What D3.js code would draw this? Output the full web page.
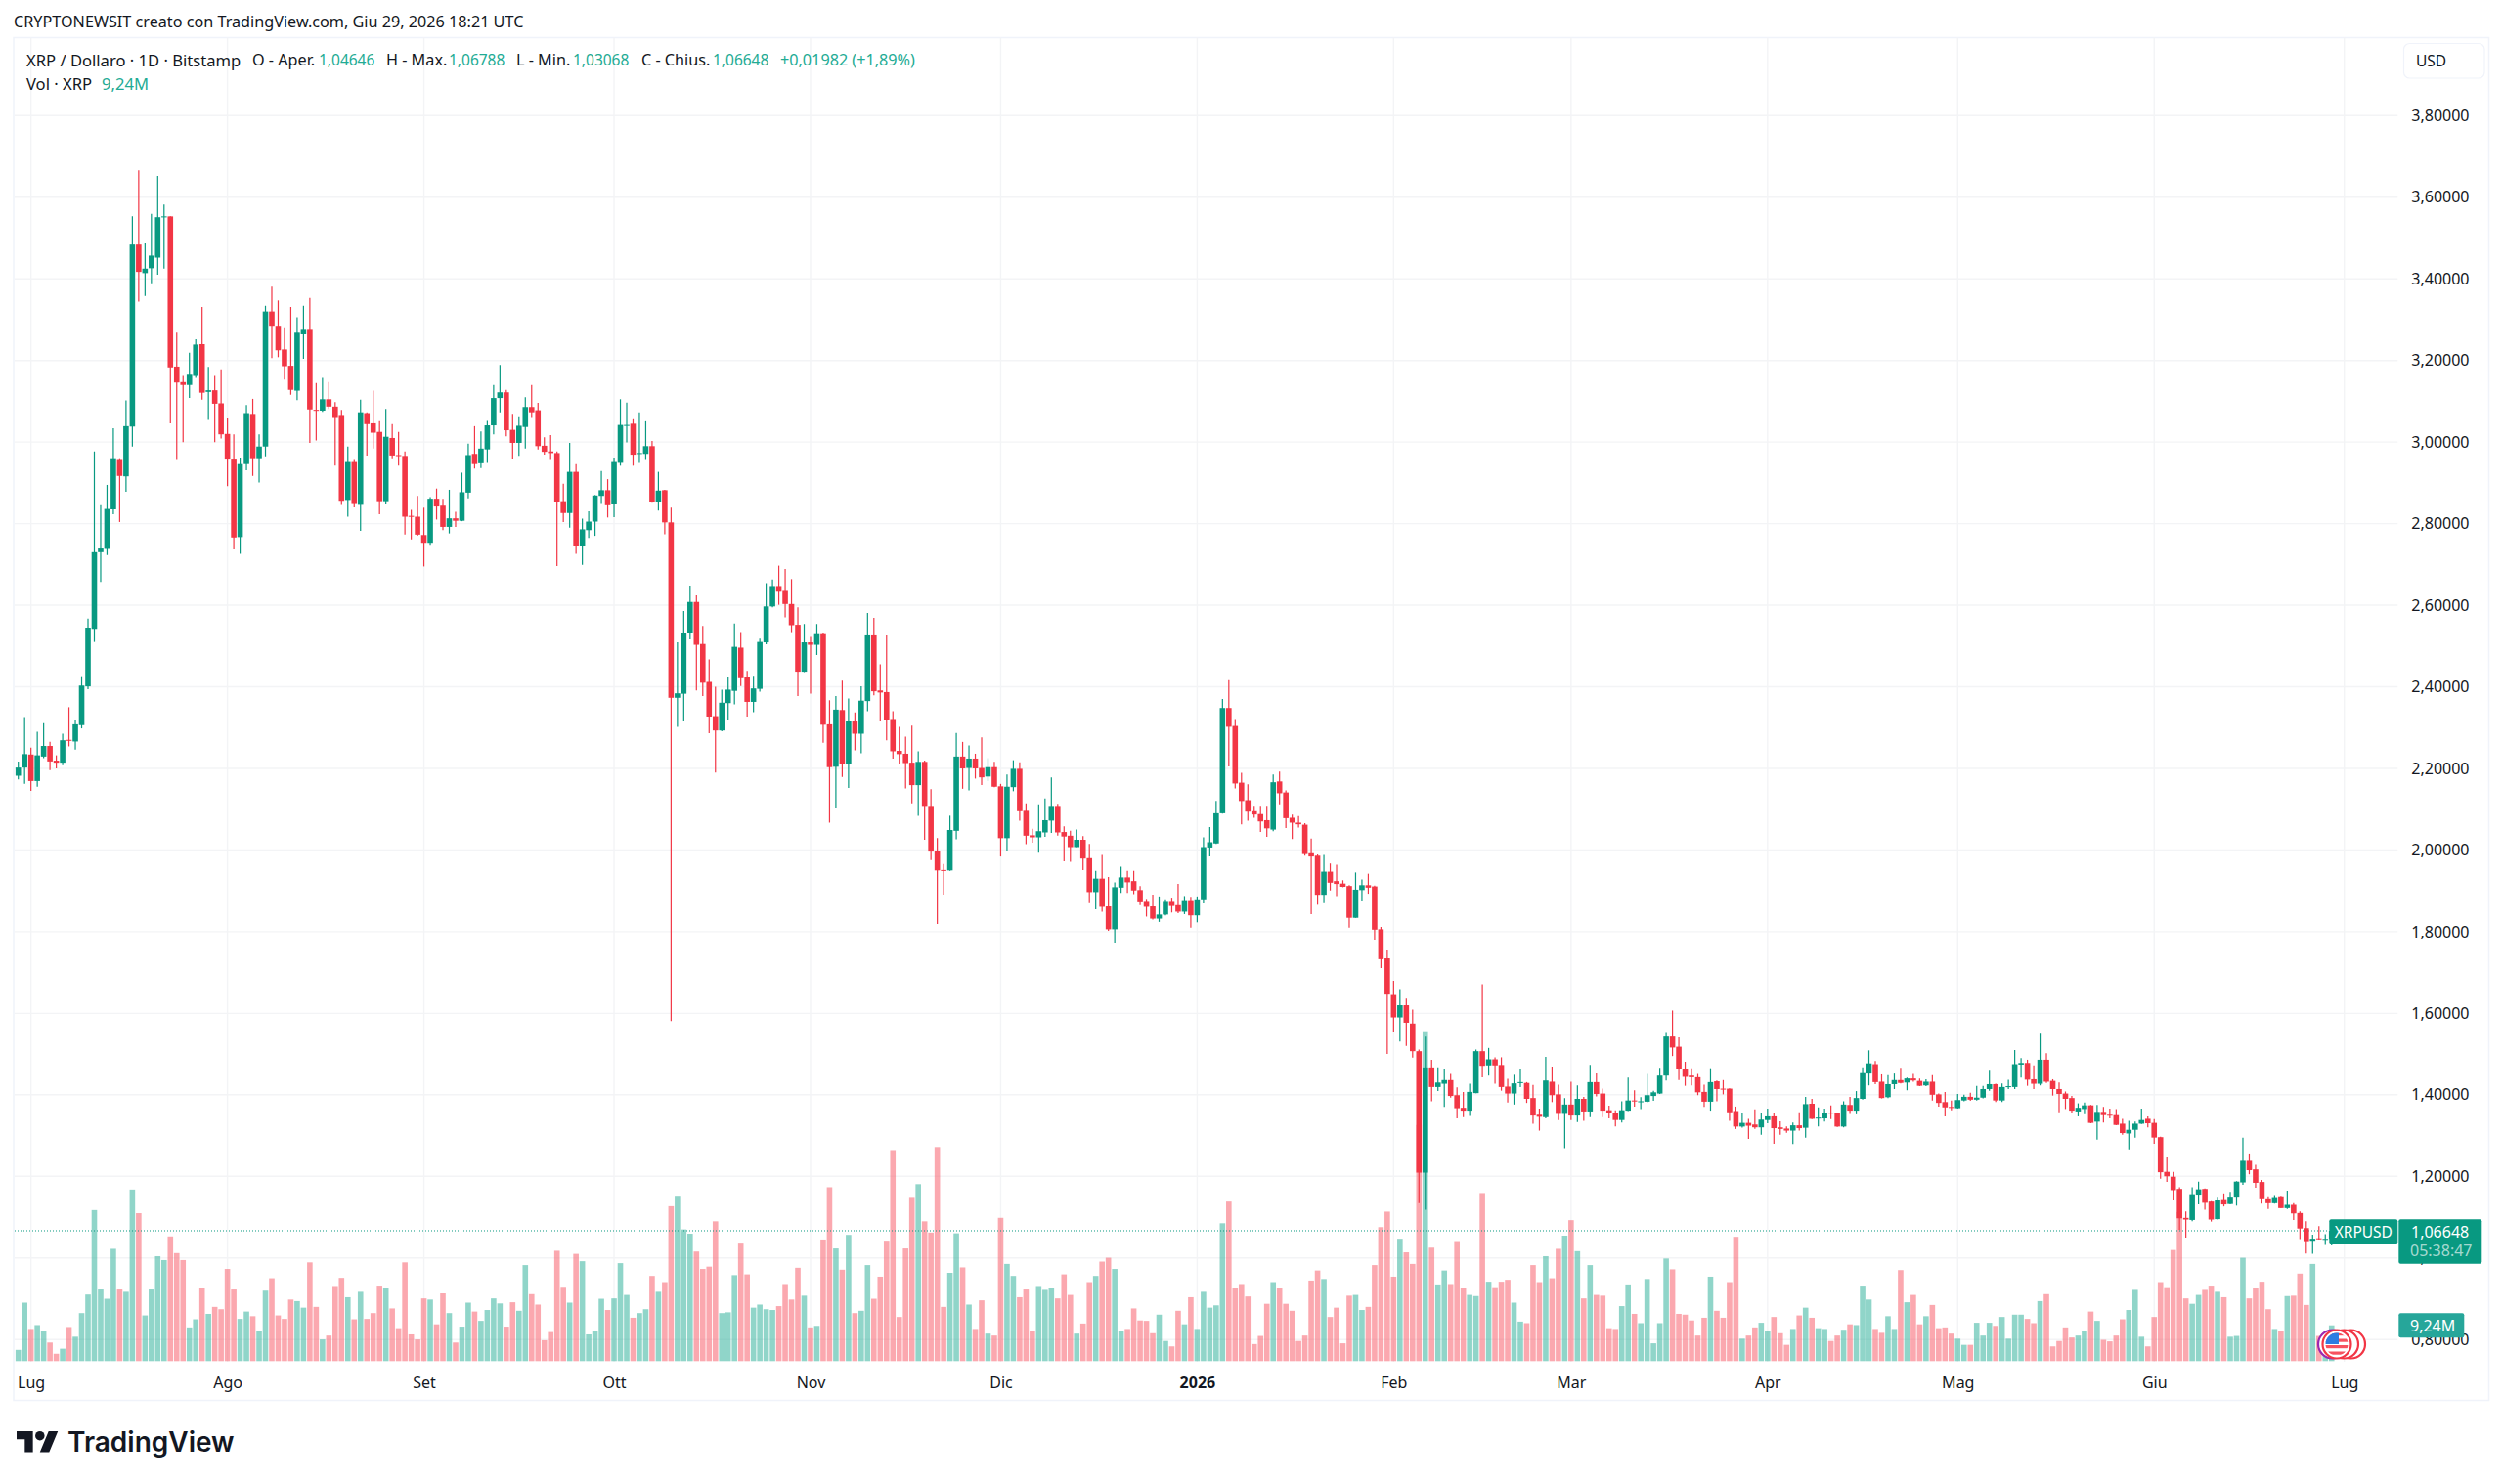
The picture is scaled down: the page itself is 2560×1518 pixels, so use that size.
<!DOCTYPE html>
<html lang="it">
<head>
<meta charset="utf-8">
<title>XRP / Dollaro</title>
<script src="https://cdn.jsdelivr.net/npm/d3@7"></script>
<style>
  html, body { margin: 0; padding: 0; background: #fff; }
  svg { display: block; }
  text { font-family: "Noto Sans", sans-serif; fill: #131722; }
</style>
</head>
<body>
<svg id="chart" width="2560" height="1518"></svg>
<script>
// Daily XRP/USD sessions, 29 Jun 2025 to 29 Jun 2026 (ten values per line)
const opens = [
2.182,2.202,2.234,2.169,2.229,2.255,2.219,2.214,2.270,2.266,
2.306,2.401,2.542,2.730,2.738,2.835,2.956,2.916,3.038,3.484,
3.414,3.426,3.452,3.552,3.553,3.185,3.147,3.140,3.162,3.240,
3.123,3.127,3.095,3.020,2.957,2.767,2.946,3.069,2.958,2.989,
3.320,3.285,3.227,3.187,3.126,3.264,3.275,3.079,3.077,3.105,
3.087,3.064,2.858,2.951,2.846,3.071,3.046,3.025,2.855,3.010,
2.968,2.966,2.819,2.817,2.772,2.753,2.861,2.844,2.792,2.813,
2.807,2.876,2.971,2.948,2.982,3.041,3.108,3.122,3.030,2.998,
3.037,3.086,3.078,2.991,2.977,2.973,2.855,2.826,2.927,2.745,
2.784,2.805,2.868,2.882,2.847,2.949,3.041,3.045,2.972,2.971,
2.990,2.852,2.882,2.803,2.373,2.383,2.531,2.608,2.505,2.412,
2.328,2.293,2.360,2.390,2.496,2.424,2.363,2.395,2.509,2.597,
2.647,2.635,2.603,2.552,2.437,2.509,2.503,2.529,2.308,2.204,
2.343,2.210,2.315,2.285,2.365,2.526,2.391,2.387,2.321,2.243,
2.236,2.214,2.159,2.216,2.108,1.997,1.951,1.950,2.047,2.229,
2.201,2.224,2.201,2.180,2.203,2.156,2.029,2.154,2.199,2.096,
2.036,2.031,2.043,2.072,2.108,2.044,2.035,2.007,2.025,1.980,
1.897,1.930,1.862,1.806,1.908,1.933,1.924,1.902,1.873,1.862,
1.832,1.842,1.873,1.865,1.849,1.875,1.840,1.877,2.006,2.016,
2.090,2.348,2.304,2.165,2.122,2.095,2.088,2.073,2.050,2.168,
2.141,2.079,2.067,2.062,1.992,1.986,1.888,1.947,1.924,1.918,
1.912,1.834,1.902,1.914,1.911,1.806,1.735,1.645,1.590,1.620,
1.575,1.507,1.209,1.467,1.419,1.427,1.436,1.399,1.368,1.361,
1.404,1.507,1.472,1.487,1.473,1.420,1.403,1.429,1.429,1.392,
1.351,1.345,1.432,1.401,1.353,1.376,1.349,1.390,1.359,1.431,
1.403,1.362,1.356,1.338,1.361,1.386,1.383,1.383,1.397,1.403,
1.447,1.543,1.518,1.463,1.447,1.443,1.407,1.383,1.433,1.415,
1.415,1.360,1.322,1.331,1.327,1.320,1.338,1.347,1.320,1.317,
1.312,1.325,1.319,1.378,1.342,1.342,1.356,1.355,1.322,1.375,
1.361,1.390,1.452,1.475,1.432,1.394,1.426,1.436,1.430,1.440,
1.434,1.423,1.432,1.401,1.382,1.370,1.367,1.386,1.395,1.388,
1.393,1.414,1.426,1.386,1.419,1.419,1.474,1.478,1.438,1.427,
1.486,1.434,1.414,1.403,1.392,1.359,1.365,1.374,1.334,1.358,
1.351,1.350,1.329,1.305,1.314,1.329,1.341,1.331,1.296,1.211,
1.199,1.169,1.098,1.093,1.155,1.169,1.138,1.095,1.144,1.132,
1.150,1.185,1.238,1.217,1.186,1.146,1.134,1.151,1.122,1.130,
1.110,1.073,1.042,1.048,1.0465,1.04646];

const highs = [
2.217,2.326,2.251,2.290,2.311,2.265,2.232,2.285,2.350,2.319,
2.426,2.567,2.977,2.845,2.895,3.034,2.958,3.102,3.553,3.666,
3.487,3.559,3.652,3.582,3.553,3.268,3.162,3.219,3.252,3.331,
3.184,3.162,3.178,3.058,3.019,2.962,3.091,3.106,3.019,3.334,
3.381,3.347,3.279,3.331,3.306,3.334,3.353,3.145,3.157,3.147,
3.098,3.079,2.989,2.956,3.104,3.073,3.126,3.051,3.081,3.044,
3.025,2.977,2.834,2.868,2.839,2.865,2.886,2.861,2.883,2.829,
2.925,2.996,3.039,3.026,3.052,3.140,3.189,3.128,3.069,3.061,
3.110,3.140,3.096,3.012,3.017,2.977,2.898,2.998,2.946,2.812,
2.830,2.870,2.929,2.909,2.962,3.105,3.097,3.056,3.073,3.051,
3.003,2.927,2.883,2.839,2.509,2.586,2.648,2.624,2.549,2.467,
2.400,2.393,2.423,2.555,2.534,2.439,2.427,2.518,2.654,2.663,
2.697,2.689,2.664,2.595,2.554,2.522,2.554,2.532,2.367,2.377,
2.415,2.371,2.337,2.401,2.581,2.569,2.455,2.526,2.340,2.302,
2.278,2.305,2.242,2.219,2.149,2.029,1.966,2.084,2.287,2.265,
2.256,2.236,2.276,2.225,2.216,2.162,2.185,2.220,2.215,2.114,
2.052,2.112,2.126,2.178,2.113,2.058,2.047,2.050,2.034,2.015,
1.949,1.988,1.934,1.921,1.959,1.949,1.949,1.912,1.878,1.890,
1.884,1.877,1.881,1.917,1.885,1.883,1.884,2.031,2.056,2.120,
2.370,2.416,2.321,2.189,2.161,2.108,2.108,2.108,2.185,2.192,
2.146,2.087,2.083,2.066,2.028,1.989,1.988,1.967,1.964,1.926,
1.914,1.945,1.928,1.942,1.913,1.812,1.754,1.680,1.657,1.636,
1.609,1.511,1.543,1.486,1.467,1.463,1.451,1.418,1.407,1.427,
1.511,1.669,1.515,1.492,1.492,1.439,1.449,1.463,1.431,1.424,
1.366,1.493,1.469,1.425,1.392,1.432,1.423,1.395,1.473,1.452,
1.415,1.373,1.362,1.384,1.442,1.411,1.394,1.451,1.410,1.466,
1.552,1.607,1.541,1.481,1.465,1.451,1.425,1.465,1.435,1.436,
1.416,1.371,1.356,1.341,1.364,1.355,1.366,1.356,1.335,1.322,
1.332,1.357,1.395,1.390,1.369,1.366,1.374,1.356,1.384,1.395,
1.409,1.467,1.509,1.483,1.450,1.448,1.452,1.466,1.442,1.451,
1.440,1.438,1.448,1.403,1.407,1.386,1.402,1.400,1.405,1.422,
1.422,1.459,1.427,1.428,1.437,1.510,1.490,1.486,1.472,1.550,
1.502,1.438,1.430,1.408,1.397,1.379,1.381,1.375,1.375,1.370,
1.366,1.365,1.341,1.336,1.334,1.366,1.347,1.340,1.297,1.248,
1.211,1.173,1.114,1.173,1.187,1.170,1.139,1.150,1.158,1.162,
1.188,1.295,1.256,1.228,1.191,1.151,1.154,1.152,1.165,1.134,
1.114,1.090,1.057,1.078,1.058,1.06788];

const lows = [
2.173,2.162,2.145,2.155,2.225,2.196,2.200,2.208,2.254,2.246,
2.298,2.394,2.510,2.657,2.723,2.823,2.804,2.878,2.989,3.344,
3.358,3.389,3.410,3.425,3.046,2.956,3.000,3.108,3.157,3.104,
3.054,3.000,3.009,2.892,2.737,2.726,2.931,2.917,2.901,2.965,
3.206,3.208,3.153,3.116,3.103,3.204,2.998,3.004,3.074,3.081,
2.942,2.846,2.817,2.840,2.782,2.967,2.984,2.823,2.847,2.958,
2.942,2.773,2.761,2.770,2.695,2.748,2.810,2.784,2.776,2.792,
2.806,2.862,2.935,2.936,2.949,3.019,3.073,3.014,2.957,2.966,
2.984,3.059,2.982,2.969,2.956,2.696,2.804,2.790,2.726,2.699,
2.765,2.770,2.848,2.815,2.816,2.942,2.999,2.942,2.949,2.956,
2.851,2.832,2.774,1.581,2.302,2.315,2.516,2.391,2.377,2.286,
2.190,2.291,2.318,2.357,2.402,2.327,2.338,2.388,2.504,2.595,
2.601,2.570,2.534,2.377,2.436,2.383,2.478,2.263,2.067,2.102,
2.179,2.152,2.244,2.237,2.340,2.379,2.315,2.269,2.224,2.210,
2.151,2.114,2.084,2.025,1.975,1.819,1.889,1.949,2.026,2.150,
2.146,2.175,2.159,2.169,2.154,1.984,1.996,2.144,2.072,2.014,
2.018,1.993,2.032,2.042,2.035,1.972,1.971,2.007,1.951,1.870,
1.855,1.849,1.802,1.771,1.895,1.895,1.892,1.865,1.837,1.830,
1.824,1.840,1.847,1.845,1.843,1.810,1.823,1.869,1.984,2.015,
2.089,2.205,2.151,2.063,2.072,2.079,2.044,2.032,2.046,2.112,
2.054,2.027,2.055,1.986,1.843,1.866,1.870,1.901,1.885,1.909,
1.810,1.834,1.874,1.893,1.778,1.711,1.500,1.553,1.531,1.520,
1.491,1.134,1.118,1.384,1.409,1.370,1.393,1.342,1.345,1.348,
1.404,1.443,1.447,1.427,1.410,1.381,1.376,1.419,1.380,1.329,
1.312,1.342,1.382,1.338,1.269,1.338,1.333,1.336,1.345,1.396,
1.345,1.342,1.322,1.332,1.360,1.371,1.365,1.381,1.385,1.402,
1.435,1.495,1.436,1.422,1.423,1.399,1.370,1.361,1.384,1.401,
1.336,1.316,1.319,1.292,1.316,1.302,1.330,1.280,1.302,1.307,
1.279,1.312,1.295,1.340,1.322,1.334,1.340,1.321,1.320,1.353,
1.352,1.388,1.423,1.426,1.391,1.392,1.414,1.428,1.411,1.432,
1.421,1.421,1.386,1.371,1.347,1.362,1.366,1.384,1.385,1.386,
1.391,1.410,1.382,1.382,1.414,1.414,1.442,1.422,1.414,1.423,
1.429,1.398,1.357,1.365,1.354,1.347,1.352,1.330,1.290,1.332,
1.342,1.325,1.302,1.266,1.295,1.328,1.320,1.280,1.194,1.186,
1.141,1.069,1.050,1.090,1.131,1.118,1.089,1.094,1.126,1.131,
1.128,1.179,1.205,1.172,1.133,1.120,1.133,1.122,1.120,1.093,
1.046,1.011,1.010,1.045,1.032,1.03068];

const closes = [
2.202,2.235,2.169,2.232,2.255,2.217,2.214,2.269,2.268,2.308,
2.403,2.545,2.730,2.739,2.836,2.958,2.917,3.039,3.484,3.417,
3.425,3.457,3.551,3.553,3.183,3.146,3.140,3.165,3.239,3.121,
3.127,3.094,3.019,2.957,2.766,2.946,3.071,2.958,2.989,3.320,
3.285,3.225,3.186,3.128,3.268,3.275,3.080,3.077,3.105,3.087,
3.059,2.856,2.951,2.848,3.073,3.044,3.023,2.855,3.013,2.967,
2.966,2.817,2.817,2.773,2.753,2.861,2.842,2.792,2.813,2.807,
2.877,2.968,2.946,2.984,3.041,3.108,3.122,3.029,2.998,3.040,
3.086,3.073,2.990,2.976,2.973,2.854,2.826,2.927,2.744,2.786,
2.805,2.869,2.882,2.845,2.951,3.042,3.042,2.969,2.973,2.990,
2.852,2.881,2.803,2.373,2.384,2.533,2.608,2.503,2.410,2.327,
2.293,2.361,2.393,2.498,2.421,2.363,2.396,2.510,2.597,2.647,
2.633,2.603,2.551,2.437,2.509,2.503,2.529,2.307,2.203,2.344,
2.210,2.315,2.285,2.366,2.526,2.389,2.386,2.318,2.242,2.235,
2.213,2.159,2.216,2.108,1.996,1.950,1.950,2.049,2.229,2.200,
2.224,2.200,2.178,2.203,2.155,2.029,2.155,2.199,2.095,2.035,
2.031,2.046,2.073,2.108,2.043,2.033,2.007,2.025,1.979,1.897,
1.930,1.861,1.806,1.909,1.933,1.921,1.901,1.872,1.861,1.832,
1.842,1.873,1.863,1.849,1.875,1.840,1.877,2.007,2.019,2.090,
2.348,2.302,2.163,2.120,2.094,2.087,2.070,2.053,2.166,2.139,
2.078,2.067,2.063,1.990,1.984,1.888,1.947,1.920,1.917,1.910,
1.834,1.903,1.914,1.908,1.805,1.733,1.646,1.590,1.620,1.577,
1.507,1.209,1.467,1.419,1.430,1.436,1.397,1.367,1.361,1.407,
1.507,1.471,1.487,1.472,1.419,1.403,1.428,1.431,1.390,1.349,
1.346,1.435,1.399,1.353,1.376,1.349,1.390,1.359,1.431,1.402,
1.361,1.355,1.338,1.362,1.386,1.384,1.384,1.399,1.406,1.447,
1.543,1.516,1.463,1.444,1.443,1.406,1.383,1.431,1.414,1.413,
1.357,1.322,1.331,1.324,1.320,1.339,1.347,1.318,1.316,1.312,
1.325,1.318,1.377,1.341,1.344,1.356,1.355,1.322,1.376,1.361,
1.392,1.453,1.477,1.431,1.392,1.426,1.436,1.429,1.440,1.435,
1.422,1.432,1.400,1.380,1.369,1.368,1.387,1.395,1.388,1.393,
1.414,1.426,1.386,1.419,1.421,1.475,1.478,1.437,1.427,1.486,
1.432,1.414,1.402,1.390,1.361,1.368,1.374,1.331,1.358,1.350,
1.350,1.326,1.306,1.314,1.329,1.338,1.330,1.295,1.210,1.200,
1.166,1.097,1.094,1.156,1.168,1.135,1.094,1.143,1.131,1.150,
1.187,1.238,1.215,1.184,1.146,1.134,1.149,1.122,1.130,1.109,
1.072,1.041,1.047,1.046,1.04666,1.06648];

// Traded volume in millions of XRP
const volumes = [
2.9,15.1,8.3,9.3,7.9,4.8,1.9,3.2,8.8,6.3,
12.4,17.2,39.0,18.5,16.1,29.0,18.5,17.9,44.3,38.2,
11.8,18.5,27.1,26.1,32.2,27.9,26.1,8.7,10.8,18.9,
12.2,14.0,13.4,23.8,18.5,10.9,12.8,11.6,7.9,18.2,
21.4,11.8,10.9,15.9,15.5,13.8,25.5,14.0,5.6,6.6,
19.4,21.5,16.5,10.8,17.9,10.9,12.4,19.5,18.8,13.6,
8.5,25.5,6.9,5.6,16.2,15.9,9.5,17.5,12.4,4.8,
8.9,15.1,12.8,10.4,13.2,16.2,14.9,8.9,15.2,13.0,
24.8,17.3,14.6,5.4,7.5,28.5,19.2,15.1,27.7,25.8,
6.9,7.7,16.1,13.2,16.2,25.3,17.1,11.2,12.4,13.4,
22.0,17.9,20.4,40.0,42.7,34.0,32.9,28.3,23.8,24.4,
36.1,12.4,12.6,22.2,30.6,22.4,13.8,14.6,13.4,13.2,
14.2,19.9,15.9,24.1,16.9,8.7,9.1,31.4,44.9,29.1,
23.6,32.6,12.4,13.0,24.8,16.1,21.8,31.1,54.5,11.4,
29.1,42.4,45.7,36.1,33.2,55.3,14.0,22.8,33.0,24.2,
14.6,8.3,15.7,7.1,6.6,37.0,25.1,22.0,16.5,18.5,
7.9,19.4,18.4,18.9,16.2,22.4,17.1,7.1,9.7,20.4,
22.0,25.7,26.7,23.8,7.7,8.3,13.6,10.5,10.4,7.2,
12.0,5.2,3.8,13.0,9.5,16.5,8.3,17.9,13.8,14.4,
35.6,41.2,18.8,19.9,16.7,4.4,6.5,14.8,20.4,18.9,
14.8,13.0,5.2,6.6,20.8,23.4,21.2,11.4,13.8,4.6,
16.9,17.1,13.2,14.0,24.8,34.6,38.6,21.8,31.6,28.1,
25.1,61.0,85.0,29.3,19.8,23.4,19.9,31.0,18.8,17.1,
16.8,43.4,20.5,19.1,20.5,21.0,15.1,10.2,9.8,24.8,
20.4,27.1,21.4,29.0,32.4,36.4,28.4,16.2,24.8,17.1,
16.9,8.5,8.3,14.2,19.8,12.2,9.8,21.2,4.6,9.8,
26.5,23.7,12.2,12.0,10.5,6.6,11.2,21.8,13.0,11.2,
20.4,32.1,5.8,6.6,8.7,9.9,7.7,11.4,7.2,4.2,
8.3,11.8,13.8,11.2,8.5,8.3,5.2,6.6,8.1,9.5,
9.3,19.5,15.9,8.3,7.3,11.6,8.3,23.5,15.2,17.1,
9.5,11.6,14.5,8.5,8.7,7.1,5.8,4.2,4.2,9.9,
6.6,9.9,9.1,11.4,5.8,12.0,12.0,10.9,9.8,15.5,
17.3,3.8,5.2,8.7,6.1,6.6,7.7,12.8,10.4,5.5,
5.1,6.6,10.8,13.2,18.4,6.3,3.8,11.4,20.4,19.1,
28.7,38.5,16.2,14.8,17.1,18.4,19.5,17.9,16.5,6.3,
6.5,26.7,16.2,18.8,20.5,13.4,8.3,7.7,16.8,16.9,
22.6,14.5,25.1,6.5,4.0,9.24];

const priceTicks = [3.8,3.6,3.4,3.2,3.0,2.8,2.6,2.4,2.2,2.0,1.8,1.6,1.4,1.2,1.0,0.8];
const monthStarts = ["2025-07-01","2025-08-01","2025-09-01","2025-10-01","2025-11-01","2025-12-01",
                     "2026-01-01","2026-02-01","2026-03-01","2026-04-01","2026-05-01","2026-06-01","2026-07-01"];
const monthLabels = ["Lug","Ago","Set","Ott","Nov","Dic","2026","Feb","Mar","Apr","Mag","Giu","Lug"];

const lastClose = 1.06648;
const lastVolume = 9.24;

const up = "#089981", down = "#f23645";
const upVol = "#22ab94", downVol = "#f7525f";
const gridColor = "#f3f4f6", frameColor = "#f0f3fa";

const firstDay = new Date(Date.UTC(2025, 5, 29));
const days = d3.utcDay.range(firstDay, d3.utcDay.offset(firstDay, opens.length));
const candles = days.map((date, i) => ({
  date, open: opens[i], high: highs[i], low: lows[i], close: closes[i], volume: volumes[i]
}));
const monthDates = monthStarts.map(d3.utcParse("%Y-%m-%d"));

const plot = { left: 15, right: 2452.3, top: 38.5, bottom: 1393 };

const x = d3.scaleUtc()
  .domain([firstDay, new Date(Date.UTC(2026, 6, 1))])
  .range([18.7, 2397.7]);
const y = d3.scaleLinear().domain([3.8, 0.8]).range([118.3, 1370.2]);
const v = d3.scaleLinear().domain([0, 100]).range([1392.3, 996.3]);

const num = d3.formatLocale({ decimal: ",", thousands: ".", grouping: [3], currency: ["", "$"] });
const price5 = num.format(".5f");

const svg = d3.select("#chart");

// Pane frame
svg.append("rect")
  .attr("x", plot.left - 1).attr("y", plot.top)
  .attr("width", 2545.5 - plot.left + 1).attr("height", 1432.5 - plot.top)
  .attr("fill", "#fff").attr("stroke", frameColor).attr("stroke-width", 1.5);

// Grid
const grid = svg.append("g").attr("stroke", gridColor).attr("stroke-width", 1.4);
grid.selectAll("line.h").data(priceTicks).join("line")
  .attr("x1", plot.left).attr("x2", plot.right)
  .attr("y1", d => y(d)).attr("y2", d => y(d));
grid.selectAll("line.v").data(monthDates).join("line")
  .attr("x1", d => x(d)).attr("x2", d => x(d))
  .attr("y1", plot.top).attr("y2", plot.bottom);

// Volume bars
const barWidth = 5.6;
svg.append("g").selectAll("rect").data(candles).join("rect")
  .attr("x", d => x(d.date) - barWidth / 2)
  .attr("width", barWidth)
  .attr("y", d => v(d.volume))
  .attr("height", d => v(0) - v(d.volume))
  .attr("fill", d => d.close >= d.open ? upVol : downVol)
  .attr("fill-opacity", 0.5);

// Last price guide
svg.append("line")
  .attr("x1", plot.left).attr("x2", 2382)
  .attr("y1", y(lastClose)).attr("y2", y(lastClose))
  .attr("stroke", up).attr("stroke-width", 1).attr("stroke-dasharray", "1 2");

// Candles
const bodyWidth = 5.6;
const candleG = svg.append("g").selectAll("g").data(candles).join("g")
  .attr("fill", d => d.close >= d.open ? up : down)
  .attr("stroke", d => d.close >= d.open ? up : down);
candleG.append("line")
  .attr("x1", d => x(d.date)).attr("x2", d => x(d.date))
  .attr("y1", d => y(d.high)).attr("y2", d => y(d.low))
  .attr("stroke-width", 1.2);
candleG.append("rect")
  .attr("x", d => x(d.date) - bodyWidth / 2)
  .attr("width", bodyWidth)
  .attr("y", d => y(Math.max(d.open, d.close)))
  .attr("height", d => Math.max(1, Math.abs(y(d.open) - y(d.close))))
  .attr("stroke", "none");

// Price scale
const priceAxis = svg.append("g")
  .attr("transform", `translate(${plot.right + 14},0)`)
  .call(d3.axisRight(y).tickValues(priceTicks).tickFormat(price5).tickSize(0).tickPadding(0));
priceAxis.select(".domain").remove();
priceAxis.selectAll("text").attr("font-size", 16).attr("font-family", null).style("fill", "#131722");

// Time scale
const timeAxis = svg.append("g")
  .attr("transform", "translate(0,1409)")
  .call(d3.axisBottom(x).tickValues(monthDates)
    .tickFormat((d, i) => monthLabels[i]).tickSize(0).tickPadding(0));
timeAxis.select(".domain").remove();
timeAxis.selectAll("text")
  .attr("font-size", 16).attr("font-family", null)
  .attr("font-weight", (d, i) => monthLabels[i] === "2026" ? 700 : 400)
  .style("fill", "#131722");

// Header lines
const headerText = (tx, ty, str, color, size) => svg.append("text")
  .attr("x", tx).attr("y", ty).attr("dominant-baseline", "central")
  .attr("font-size", size || 16.2).style("fill", color || "#131722").text(str);

headerText(14, 22, "CRYPTONEWSIT creato con TradingView.com, Giu 29, 2026 18:21 UTC");
const teal = "#22ab94";
const legendSegments = [
  [27, "XRP / Dollaro · 1D · Bitstamp", null, 16.6],
  [258, "O - Aper.", null, 16.2], [326, "1,04646", teal, 15.5],
  [395, "H - Max.", null, 16.2], [459, "1,06788", teal, 15.5],
  [528, "L - Min.", null, 16.2], [586, "1,03068", teal, 15.5],
  [656, "C - Chius.", null, 16.2], [729, "1,06648", teal, 15.5],
  [798, "+0,01982 (+1,89%)", teal, 16.2]
];
legendSegments.forEach(([tx, str, color, size]) => headerText(tx, 61, str, color, size));
headerText(27, 85, "Vol · XRP", null, 16.6);
headerText(104, 85, "9,24M", teal, 16.6);

// Currency button
svg.append("rect")
  .attr("x", 2458.5).attr("y", 44.5).attr("width", 82.5).attr("height", 35.5).attr("rx", 6)
  .attr("fill", "#fff").attr("stroke", "#f0f3fa").attr("stroke-width", 1.2);
svg.append("text").attr("x", 2471).attr("y", 62).attr("dominant-baseline", "central")
  .attr("font-size", 15.5).text("USD");

// Economic event badges above the volume pane
const badges = svg.append("g");
[[2404.5, "#f23645"], [2397.5, "#f23645"], [2385.5, "#9c27b0"], [2390, "#f23645"]].forEach(([cx, ring]) => {
  badges.append("circle").attr("cx", cx).attr("cy", 1375).attr("r", 14.5)
    .attr("fill", "#fff").attr("stroke", ring).attr("stroke-width", 2.2);
});
const flagClip = svg.append("clipPath").attr("id", "flagClip");
flagClip.append("circle").attr("cx", 2390).attr("cy", 1375).attr("r", 11.5);
const flag = badges.append("g").attr("clip-path", "url(#flagClip)");
flag.append("rect").attr("x", 2378).attr("y", 1363).attr("width", 24).attr("height", 24).attr("fill", "#fff");
d3.range(0, 4).forEach(k => {
  flag.append("rect").attr("x", 2378).attr("y", 1363 + k * 6.5).attr("width", 24).attr("height", 3.2).attr("fill", "#f7525f");
});
flag.append("rect").attr("x", 2378).attr("y", 1363).attr("width", 14).attr("height", 12).attr("fill", "#2e7de1");

// Symbol, last price and countdown tags
svg.append("rect").attr("x", 2382.3).attr("y", 1247.3).attr("width", 70).attr("height", 25)
  .attr("rx", 2).attr("fill", up);
svg.append("text").attr("x", 2417.3).attr("y", 1260).attr("dominant-baseline", "central")
  .attr("text-anchor", "middle").attr("font-size", 15.5).style("fill", "#fff").text("XRPUSD");
svg.append("rect").attr("x", 2453.3).attr("y", 1247.3).attr("width", 85).attr("height", 45.4)
  .attr("rx", 2).attr("fill", up);
svg.append("text").attr("x", 2466).attr("y", 1259.5).attr("dominant-baseline", "central")
  .attr("font-size", 16).style("fill", "#fff").text(price5(lastClose));
svg.append("text").attr("x", 2465).attr("y", 1279).attr("dominant-baseline", "central")
  .attr("font-size", 16).style("fill", "#fff").style("fill-opacity", 0.65).text("05:38:47");

// Last volume tag
svg.append("rect").attr("x", 2453.3).attr("y", v(lastVolume) - 12.5).attr("width", 67).attr("height", 25)
  .attr("rx", 2).attr("fill", "#26a69a");
svg.append("text").attr("x", 2465).attr("y", v(lastVolume)).attr("dominant-baseline", "central")
  .attr("font-size", 16).style("fill", "#fff").text("9,24M");

// Brand mark
const brand = svg.append("g").attr("transform", "translate(17,1459.2) scale(1.19)").attr("fill", "#131722");
brand.append("path").attr("d", "M14 22H7V11H0V4h14v18zM28 22h-8l7.5-18h8L28 22z");
brand.append("circle").attr("cx", 20).attr("cy", 8).attr("r", 4);
svg.append("text").attr("x", 69).attr("y", 1485).attr("font-size", 28).attr("font-weight", 600)
  .style("font-family", "Inter, sans-serif").style("fill", "#131722").text("TradingView");
</script>
</body>
</html>
